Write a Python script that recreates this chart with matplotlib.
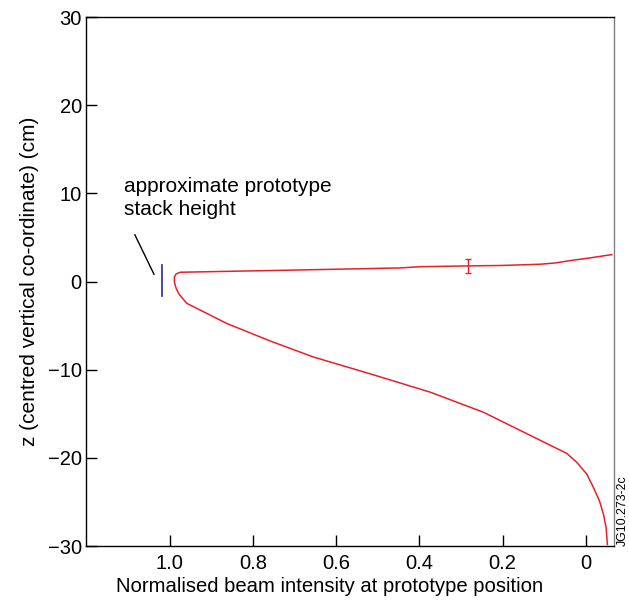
import numpy as np
import matplotlib
matplotlib.use('Agg')
import matplotlib.pyplot as plt

plt.rcParams['font.family'] = ['Liberation Sans', 'DejaVu Sans']

# beam profile (lower branch, then nose, then upper branch)
intensity = [-0.052, -0.049, -0.0426, -0.033, -0.0185, -0.0026, 0.0214, 0.0455,
             0.246, 0.374, 0.519, 0.655, 0.759, 0.863,
             0.959, 0.968, 0.978, 0.985, 0.989, 0.989, 0.985, 0.975,
             0.687, 0.446, 0.398, 0.284, 0.200, 0.110, 0.074, 0.0375, -0.0106, -0.063]
z = [-29.82, -27.93, -26.4, -24.89, -23.37, -21.85, -20.52, -19.5,
     -14.83, -12.55, -10.46, -8.56, -6.74, -4.76,
     -2.48, -1.99, -1.42, -0.74, -0.06, 0.51, 0.85, 1.05,
     1.31, 1.54, 1.68, 1.77, 1.82, 1.96, 2.10, 2.37, 2.68, 3.05]

err_x = [0.284]
err_z = [1.77]
err_dz = [0.77]

stack_x = [1.019, 1.019]
stack_z = [-1.62, 1.88]

leader_x = [1.084, 1.038]
leader_z = [5.30, 0.82]

xticks = [1.0, 0.8, 0.6, 0.4, 0.2, 0.0]
xticklabels = ['1.0', '0.8', '0.6', '0.4', '0.2', '0']
yticks = [-30, -20, -10, 0, 10, 20, 30]

fig = plt.figure(figsize=(6.29, 6.01), dpi=100)
ax = fig.add_axes([0.1367, 0.0915, 0.8395, 0.8802])

ax.plot(intensity, z, color='#e8202a', lw=1.1)
ax.errorbar(err_x, err_z, yerr=err_dz, fmt='none', ecolor='#e8202a', elinewidth=1.0, capsize=2.0, capthick=1.0)
ax.plot(stack_x, stack_z, color='#3a3a9a', lw=1.3)
ax.plot(leader_x, leader_z, color='black', lw=1.0)

ax.text(1.110, 11.9, 'approximate prototype\nstack height', fontsize=15, ha='left', va='top', linespacing=1.3)

ax.set_xlim(1.2015, -0.068)
ax.set_ylim(-30, 30)
ax.set_xticks(xticks)
ax.set_xticklabels(xticklabels)
ax.set_yticks(yticks)
ax.tick_params(direction='in', length=8, width=1, labelsize=14.5)
ax.tick_params(axis='x', pad=6)
ax.tick_params(axis='y', pad=3)
ax.spines['right'].set_color('#808080')
for s in ax.spines.values():
    s.set_linewidth(1.0)

ax.set_xlabel('Normalised beam intensity at prototype position', fontsize=14.6, labelpad=2)
ax.xaxis.set_label_coords(0.461, -0.058)
ax.set_ylabel('z (centred vertical co-ordinate) (cm)', fontsize=15, labelpad=6)

fig.text(0.99, 0.092, 'JG10.273-2c', rotation=90, fontsize=8.9, ha='center', va='bottom')

fig.savefig('out.png', dpi=100)
